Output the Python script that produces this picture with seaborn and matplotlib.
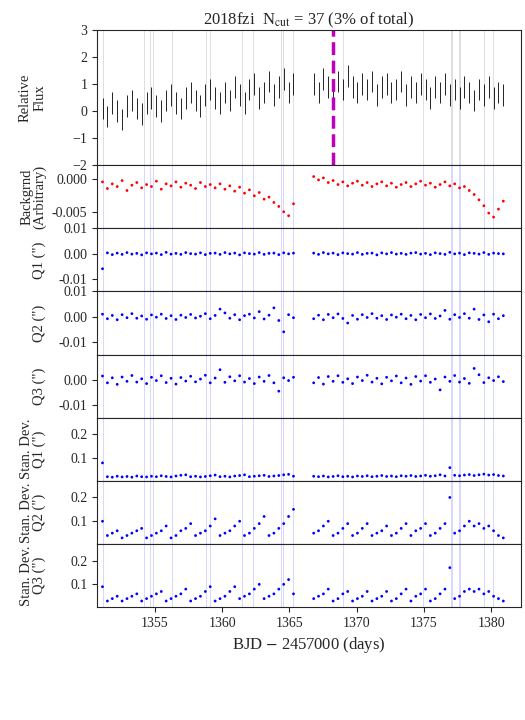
import numpy as np
import matplotlib
matplotlib.use('Agg')
import matplotlib.pyplot as plt
import seaborn as sns

sns.set_style('ticks')
plt.rcParams['font.family'] = ['Liberation Serif', 'DejaVu Serif']
plt.rcParams['mathtext.fontset'] = 'stix'

# sample times of the two orbits (BJD - 2457000)
t1 = np.linspace(1351.1, 1365.3, 40)
t2 = np.linspace(1366.8, 1380.9, 40)

cut_times = [1351.1, 1354.2, 1354.6, 1354.85, 1356.3, 1358.8, 1359.1, 1361.5, 1362.3, 1364.4,
             1364.5, 1365.3, 1369.0, 1374.9, 1377.0, 1377.1, 1377.6, 1377.7, 1379.5, 1380.1]
peak_time = 1368.2

flux1 = [0.1, -0.2, 0.3, 0.0, -0.3, 0.2, 0.4, 0.1, -0.1, 0.3, 0.5, 0.2, 0.0, 0.4, 0.6, 0.3, 0.1, 0.5, 0.7, 0.4,
         0.2, 0.6, 0.8, 0.5, 0.3, 0.7, 0.4, 0.9, 0.6, 0.3, 0.8, 1.0, 0.5, 0.7, 1.1, 0.6, 0.9, 1.2, 0.7, 1.0]
flux2 = [1.0, 0.7, 1.2, 0.9, 0.6, 1.1, 0.8, 1.3, 0.9, 0.7, 1.0, 0.8, 1.1, 0.6, 0.9, 1.0, 0.7, 0.8, 1.1, 0.6,
         0.9, 0.7, 1.0, 0.8, 0.5, 0.9, 0.7, 1.0, 0.6, 0.8, 0.5, 0.9, 0.7, 0.4, 0.8, 0.6, 0.9, 0.5, 0.7, 0.6]
flux_err = 0.4

bkg1 = [-0.0005, -0.0015, -0.0008, -0.0012, -0.0003, -0.0018, -0.0010, -0.0006, -0.0014, -0.0009,
        -0.0012, -0.0004, -0.0016, -0.0008, -0.0011, -0.0005, -0.0013, -0.0007, -0.0010, -0.0015,
        -0.0006, -0.0012, -0.0009, -0.0014, -0.0008, -0.0016, -0.0011, -0.0019, -0.0013, -0.0022,
        -0.0017, -0.0026, -0.0021, -0.0031, -0.0028, -0.0036, -0.0042, -0.0050, -0.0056, -0.0038]
bkg2 = [0.0003, -0.0002, 0.0001, -0.0006, -0.0003, -0.0009, -0.0005, -0.0011, -0.0007, -0.0004,
        -0.0010, -0.0006, -0.0012, -0.0008, -0.0005, -0.0011, -0.0007, -0.0013, -0.0009, -0.0006,
        -0.0012, -0.0008, -0.0004, -0.0010, -0.0007, -0.0013, -0.0009, -0.0005, -0.0011, -0.0008,
        -0.0014, -0.0012, -0.0018, -0.0024, -0.0032, -0.0041, -0.0052, -0.0058, -0.0046, -0.0034]

q1_1 = [-0.006, 0.0003, -0.0004, 0.0002, -0.0003, 0.0004, -0.0002, 0.0001, -0.0005, 0.0003,
        -0.0001, 0.0002, -0.0004, 0.0005, -0.0002, 0.0001, -0.0003, 0.0004, 0.0000, -0.0002,
        0.0003, -0.0004, 0.0001, 0.0002, -0.0003, 0.0004, -0.0001, 0.0002, -0.0005, 0.0003,
        0.0000, -0.0002, 0.0004, -0.0003, 0.0001, 0.0002, -0.0004, 0.0003, -0.0001, 0.0002]
q1_2 = [0.0002, -0.0003, 0.0004, -0.0001, 0.0002, -0.0004, 0.0003, 0.0000, -0.0002, 0.0004,
        -0.0003, 0.0001, 0.0002, -0.0005, 0.0003, -0.0001, 0.0004, -0.0002, 0.0001, -0.0003,
        0.0002, 0.0004, -0.0002, 0.0001, -0.0004, 0.0003, 0.0000, -0.0003, 0.0005, -0.0001,
        0.0002, -0.0004, 0.0003, 0.0001, -0.0002, 0.0004, -0.0003, 0.0002, 0.0000, -0.0001]
q2_1 = [0.0010, -0.0008, 0.0005, -0.0012, 0.0008, -0.0004, 0.0012, -0.0006, 0.0003, -0.0010,
        0.0007, -0.0002, 0.0010, -0.0007, 0.0004, -0.0011, 0.0006, -0.0003, 0.0009, -0.0005,
        0.0002, 0.0012, -0.0008, 0.0005, 0.0030, 0.0015, -0.0006, 0.0008, -0.0012, 0.0004,
        0.0010, -0.0005, 0.0020, -0.0009, 0.0006, 0.0035, -0.0015, -0.0060, 0.0008, -0.0004]
q2_2 = [-0.0008, 0.0006, -0.0012, 0.0009, -0.0004, 0.0011, -0.0007, -0.0025, 0.0005, -0.0010,
        0.0008, -0.0003, 0.0012, -0.0006, 0.0004, -0.0011, 0.0007, -0.0002, 0.0010, -0.0008,
        0.0005, -0.0012, 0.0009, -0.0004, 0.0011, -0.0007, 0.0003, 0.0025, -0.0010, 0.0008,
        -0.0003, 0.0012, -0.0006, 0.0030, -0.0011, 0.0007, -0.0020, 0.0010, -0.0008, 0.0004]
q3_1 = [0.0015, -0.0012, 0.0008, -0.0018, 0.0011, -0.0006, 0.0017, -0.0009, 0.0004, -0.0015,
        0.0010, -0.0003, 0.0016, -0.0011, 0.0006, -0.0017, 0.0009, -0.0005, 0.0014, -0.0008,
        0.0003, 0.0018, -0.0012, 0.0007, 0.0040, -0.0010, 0.0012, -0.0004, 0.0016, -0.0009,
        0.0005, -0.0015, 0.0011, -0.0006, 0.0017, -0.0012, -0.0045, 0.0008, -0.0003, 0.0010]
q3_2 = [-0.0012, 0.0009, -0.0017, 0.0013, -0.0006, 0.0016, -0.0010, 0.0004, -0.0015, 0.0011,
        -0.0003, 0.0018, -0.0009, 0.0006, -0.0016, 0.0010, -0.0004, 0.0015, -0.0012, 0.0007,
        -0.0018, 0.0013, -0.0005, 0.0016, -0.0010, 0.0003, -0.0040, 0.0011, -0.0006, 0.0017,
        -0.0009, 0.0005, -0.0014, 0.0045, 0.0020, -0.0011, 0.0008, -0.0003, 0.0012, -0.0007]

sd1_1 = [0.08, 0.022, 0.020, 0.024, 0.021, 0.023, 0.020, 0.025, 0.022, 0.021,
         0.024, 0.022, 0.026, 0.023, 0.021, 0.025, 0.028, 0.030, 0.022, 0.024,
         0.021, 0.023, 0.026, 0.029, 0.022, 0.024, 0.021, 0.025, 0.027, 0.030,
         0.022, 0.024, 0.026, 0.028, 0.023, 0.025, 0.027, 0.030, 0.032, 0.024]
sd1_2 = [0.024, 0.022, 0.025, 0.021, 0.023, 0.026, 0.022, 0.024, 0.021, 0.025,
         0.023, 0.026, 0.022, 0.024, 0.027, 0.023, 0.025, 0.022, 0.026, 0.024,
         0.027, 0.023, 0.025, 0.028, 0.024, 0.026, 0.030, 0.025, 0.060, 0.028,
         0.026, 0.029, 0.031, 0.027, 0.030, 0.033, 0.029, 0.031, 0.027, 0.025]
sd2_1 = [0.10, 0.04, 0.05, 0.06, 0.03, 0.04, 0.05, 0.06, 0.07, 0.03,
         0.04, 0.05, 0.06, 0.08, 0.03, 0.04, 0.06, 0.07, 0.09, 0.04,
         0.05, 0.06, 0.08, 0.11, 0.04, 0.05, 0.06, 0.08, 0.10, 0.04,
         0.05, 0.07, 0.09, 0.12, 0.04, 0.05, 0.07, 0.09, 0.12, 0.15]
sd2_2 = [0.05, 0.06, 0.08, 0.10, 0.04, 0.05, 0.07, 0.09, 0.04, 0.05,
         0.07, 0.09, 0.04, 0.05, 0.06, 0.08, 0.04, 0.05, 0.07, 0.09,
         0.04, 0.06, 0.07, 0.09, 0.04, 0.05, 0.07, 0.09, 0.20, 0.05,
         0.06, 0.08, 0.10, 0.08, 0.09, 0.07, 0.08, 0.06, 0.04, 0.03]
sd3_1 = [0.09, 0.03, 0.04, 0.05, 0.03, 0.04, 0.05, 0.06, 0.03, 0.04,
         0.05, 0.06, 0.07, 0.03, 0.04, 0.05, 0.06, 0.08, 0.03, 0.04,
         0.05, 0.07, 0.09, 0.03, 0.04, 0.05, 0.07, 0.09, 0.04, 0.05,
         0.06, 0.08, 0.10, 0.04, 0.05, 0.06, 0.08, 0.10, 0.12, 0.06]
sd3_2 = [0.04, 0.05, 0.06, 0.08, 0.03, 0.04, 0.06, 0.07, 0.03, 0.04,
         0.05, 0.07, 0.03, 0.04, 0.05, 0.07, 0.03, 0.04, 0.06, 0.08,
         0.03, 0.05, 0.06, 0.08, 0.03, 0.04, 0.06, 0.08, 0.17, 0.04,
         0.05, 0.07, 0.08, 0.07, 0.08, 0.06, 0.07, 0.05, 0.04, 0.03]

fig, axes = plt.subplots(8, 1, figsize=(5.25, 7.2), dpi=100, sharex=True,
                         gridspec_kw={'height_ratios': [2.14, 1, 1, 1, 1, 1, 1, 1], 'hspace': 0})
fig.subplots_adjust(left=0.185, right=0.992, top=0.958, bottom=0.157)

ax = axes[0]
for t in cut_times:
    ax.axvline(t, color='0.85', lw=0.6, zorder=0)
for tt, ff in [(t1, flux1), (t2, flux2)]:
    ax.errorbar(tt, ff, yerr=flux_err, fmt='none', ecolor='k', elinewidth=0.6)
ax.axvline(peak_time, color='m', ls='--', lw=2.5)
ax.set_ylim(-2, 3)
ax.set_yticks([-2, -1, 0, 1, 2, 3])
ax.set_ylabel('Relative\nFlux')
ax.set_title(r'2018fzi  N$_{\rm cut}$ = 37 (3% of total)', fontsize=12, pad=2)

panels = [
    (bkg1, bkg2, 'red', 'Backgrnd\n(Arbitrary)', (-0.0075, 0.002), [0.0, -0.005], '{:.3f}'),
    (q1_1, q1_2, 'blue', 'Q1 (")', (-0.015, 0.01), [-0.01, 0.0, 0.01], '{:.2f}'),
    (q2_1, q2_2, 'blue', 'Q2 (")', (-0.015, 0.01), [-0.01, 0.0, 0.01], '{:.2f}'),
    (q3_1, q3_2, 'blue', 'Q3 (")', (-0.015, 0.01), [-0.01, 0.0], '{:.2f}'),
    (sd1_1, sd1_2, 'blue', 'Stan. Dev.\nQ1 (")', (0.005, 0.27), [0.1, 0.2], '{:.1f}'),
    (sd2_1, sd2_2, 'blue', 'Stan. Dev.\nQ2 (")', (0.005, 0.27), [0.1, 0.2], '{:.1f}'),
    (sd3_1, sd3_2, 'blue', 'Stan. Dev.\nQ3 (")', (0.005, 0.27), [0.1, 0.2], '{:.1f}'),
]
for ax, (y1, y2, col, lab, lim, ticks, fmtstr) in zip(axes[1:], panels):
    for t in cut_times:
        ax.axvline(t, color='#d0d0ff', lw=0.6, zorder=0)
    sns.scatterplot(x=t1, y=y1, ax=ax, color=col, s=4, edgecolor='none')
    sns.scatterplot(x=t2, y=y2, ax=ax, color=col, s=4, edgecolor='none')
    ax.set_ylim(*lim)
    ax.set_yticks(ticks)
    ax.set_yticklabels([fmtstr.format(v) for v in ticks])
    ax.set_ylabel(lab, linespacing=0.95)

for ax in axes:
    ax.tick_params(direction='out', labelsize=10)
    ax.yaxis.label.set_size(10.5)

axes[-1].set_xlim(1350.7, 1382.2)
axes[-1].set_xticks([1355, 1360, 1365, 1370, 1375, 1380])
axes[-1].set_xlabel('BJD $-$ 2457000 (days)', fontsize=12)
fig.align_ylabels(axes)
fig.savefig('out.png', dpi=100)
